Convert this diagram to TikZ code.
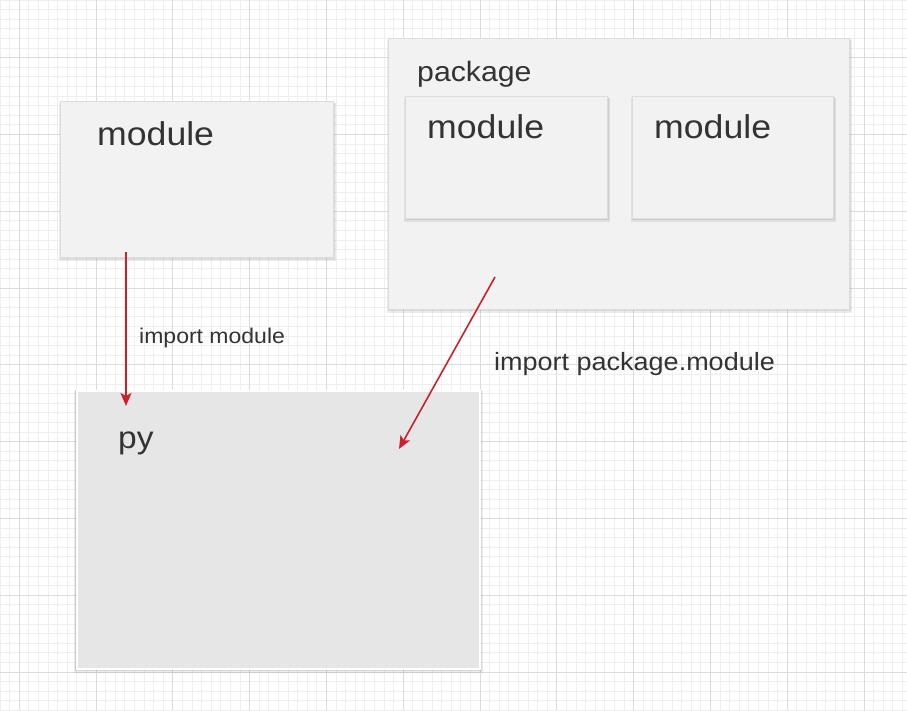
\documentclass[tikz,border=0pt]{standalone}
\usepackage{fontspec}
\setmainfont{Liberation Sans}[FakeStretch=1.08]
\usetikzlibrary{arrows.meta}
\definecolor{gridminor}{HTML}{EFEFEF}
\definecolor{gridmajor}{HTML}{DCDCDC}
\definecolor{boxfill}{HTML}{F2F2F2}
\definecolor{pyfill}{HTML}{E6E6E6}
\definecolor{boxline}{HTML}{DDDDDD}
\definecolor{txt}{HTML}{333333}
\definecolor{arrowred}{HTML}{C8232C}
\newcommand{\softshade}[4]{%
  \foreach \s in {1,2,3}{
    \fill[black,opacity=0.075] (#1-0.4*\s+0.4,#2+0.5*\s) rectangle (#3+0.9*\s,#4+1.2*\s);
  }%
}
\tikzset{
  minorline/.style={draw=gridminor,line width=1},
  majorline/.style={draw=gridmajor,line width=1},
  panel/.style={rectangle,fill=boxfill,draw=boxline,line width=0.5,inner sep=0pt,anchor=north west},
  pypanel/.style={rectangle,fill=pyfill,draw=white,line width=2,inner sep=0pt,anchor=north west},
  label/.style={anchor=base west,inner sep=0pt,text=txt},
  bigtxt/.style={label,font=\fontsize{33}{38}\selectfont},
  midtxt/.style={label,font=\fontsize{28}{32}\selectfont},
  imptxt/.style={label,font=\fontsize{25}{29}\selectfont},
  smalltxt/.style={label,font=\fontsize{21.3}{25}\selectfont},
  pytxt/.style={label,font=\fontsize{31}{35}\selectfont},
  conn/.style={draw=arrowred,line width=1.6pt,-{Stealth[length=13pt,width=11pt,inset=3pt]}}
}
\begin{document}
\begin{tikzpicture}[x=1pt,y=-1pt]
\useasboundingbox (0,0) rectangle (907,710);
\fill[white] (0,0) rectangle (907,710);
% grid
\foreach \i in {0,...,95}{
  \draw[minorline] (\i*9.6,0) -- (\i*9.6,710);
}
\foreach \i in {0,...,74}{
  \draw[minorline] (0,\i*9.6) -- (907,\i*9.6);
}
\foreach \i in {0,...,11}{
  \draw[majorline] (19.2+\i*76.8,0) -- (19.2+\i*76.8,710);
}
\foreach \i in {0,...,9}{
  \draw[majorline] (0,57.6+\i*76.8) -- (907,57.6+\i*76.8);
}
% soft shadows
\softshade{60}{101}{333}{257}
\softshade{388}{38}{849}{309}
\softshade{75}{389}{480}{669}
% boxes
\node[panel,minimum width=273,minimum height=156] (leftmod) at (60,101) {};
\node[panel,minimum width=461,minimum height=271] (pkg) at (388,38) {};
\softshade{405}{96}{607}{218}
\softshade{632}{96}{833}{218}
\node[panel,minimum width=202,minimum height=122] (inmodA) at (405,96) {};
\node[panel,minimum width=201,minimum height=122] (inmodB) at (632,96) {};
\node[pypanel,minimum width=403,minimum height=278] (py) at (76,390) {};
% texts
\node[bigtxt] (leftmodlbl) at (97,145) {module};
\node[midtxt] (pkglbl) at (417,81) {package};
\node[bigtxt] (inmodAlbl) at (427,138) {module};
\node[bigtxt] (inmodBlbl) at (654,138) {module};
\node[smalltxt] (implbl) at (139,343) {import module};
\node[imptxt] (imppkglbl) at (494,370) {import package.module};
\node[pytxt] (pylbl) at (118,448) {py};
% connector endpoints
\coordinate (startA) at (126,252);
\coordinate (endA) at (126,406);
\coordinate (startB) at (495,277);
\coordinate (endB) at (399,449);
\draw[conn] (startA) -- (endA);
\draw[conn] (startB) -- (endB);
\end{tikzpicture}
\end{document}
